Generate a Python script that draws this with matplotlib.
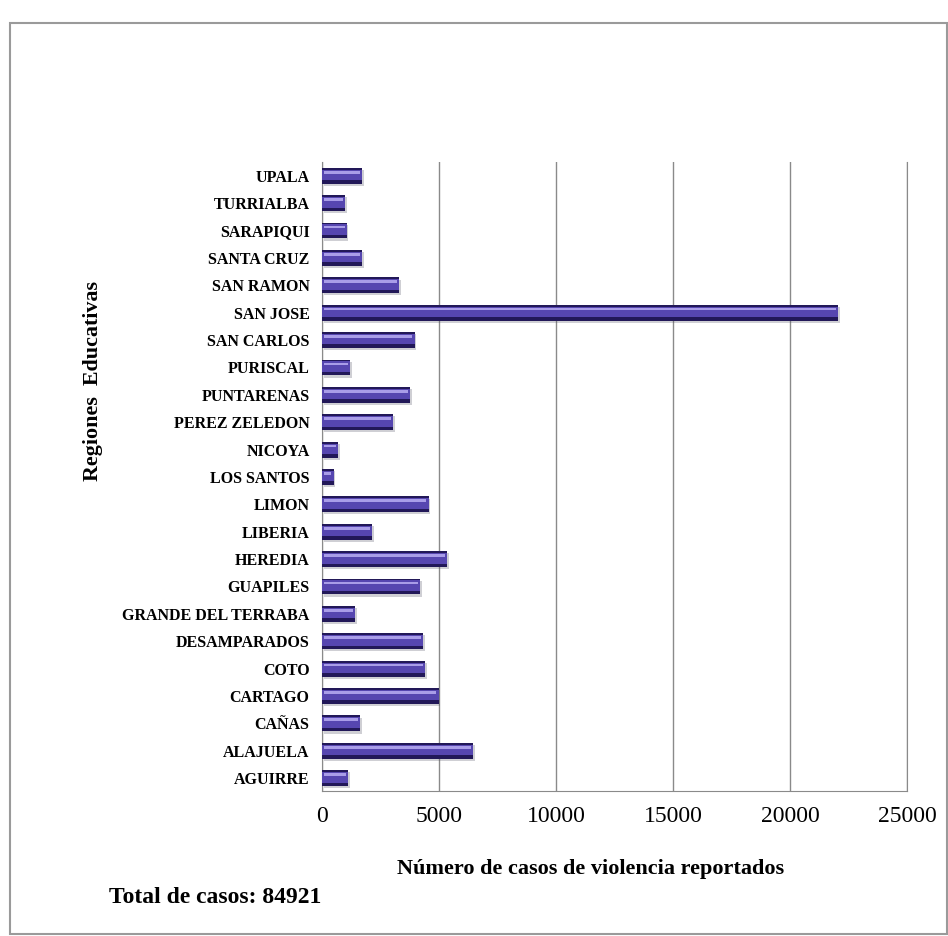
import numpy as np
import matplotlib
matplotlib.use("Agg")
from matplotlib import pyplot as plt
from matplotlib.patches import Rectangle

regiones = ["AGUIRRE", "ALAJUELA", "CAÑAS", "CARTAGO", "COTO", "DESAMPARADOS",
            "GRANDE DEL TERRABA", "GUAPILES", "HEREDIA", "LIBERIA", "LIMON",
            "LOS SANTOS", "NICOYA", "PEREZ ZELEDON", "PUNTARENAS", "PURISCAL",
            "SAN CARLOS", "SAN JOSE", "SAN RAMON", "SANTA CRUZ", "SARAPIQUI",
            "TURRIALBA", "UPALA"]
casos = [1130, 6450, 1630, 4980, 4420, 4320, 1430, 4200, 5340, 2150, 4560,
         490, 680, 3030, 3770, 1200, 3960, 22050, 3290, 1720, 1060, 980, 1720]
xticks = [0, 5000, 10000, 15000, 20000, 25000]
total = 84921

plt.rcParams['font.family'] = ['Liberation Serif', 'DejaVu Serif']

fig = plt.figure(figsize=(9.48, 9.36), dpi=100)
ax = fig.add_axes([0.3397, 0.1549, 0.6171, 0.6725])

y = np.arange(len(regiones))
h = 0.58

# shadow, body, shading and highlight to get the cylinder look
ax.barh(y - 0.08, casos, height=h, left=70, color='#555566', alpha=0.28, zorder=2)
ax.barh(y, casos, height=h, color='#221858', zorder=3)
ax.barh(y + 0.03, casos, height=h * 0.66, color='#5646b0', zorder=4)
ax.barh(y + 0.13, [c - 200 for c in casos], height=h * 0.17, left=100,
        color='#a99de8', zorder=5)

ax.set_xlim(0, 25000)
ax.set_ylim(-0.47, len(regiones) - 0.48)
ax.set_xticks(xticks)
ax.set_xticklabels([str(t) for t in xticks], fontsize=17)
ax.set_yticks(y)
ax.set_yticklabels(regiones, fontsize=11.5, fontweight='bold')
ax.tick_params(axis='both', length=0)
ax.tick_params(axis='x', pad=11)
ax.tick_params(axis='y', pad=9)

ax.grid(True, axis='x', color='#8a8a8a', lw=1, zorder=1)
ax.set_axisbelow(True)
for s in ['left', 'bottom', 'right']:
    ax.spines[s].set_color('#8a8a8a')
ax.spines['top'].set_visible(False)

fig.text(0.6234, 0.0716, 'Número de casos de violencia reportados', fontsize=16,
         fontweight='bold', ha='center', va='center')
fig.text(0.098, 0.593, 'Regiones  Educativas', rotation=90, fontsize=15.8,
         fontweight='bold', ha='center', va='center')
fig.text(0.115, 0.0406, 'Total de casos: %d' % total, fontsize=17,
         fontweight='bold', ha='left', va='center')

# outer frame
fig.patches.append(Rectangle((0.0105, 0.0021), 0.988, 0.9733, transform=fig.transFigure,
                             fill=False, edgecolor='#9a9a9a', lw=1.5))

fig.savefig('out.png', dpi=100)
